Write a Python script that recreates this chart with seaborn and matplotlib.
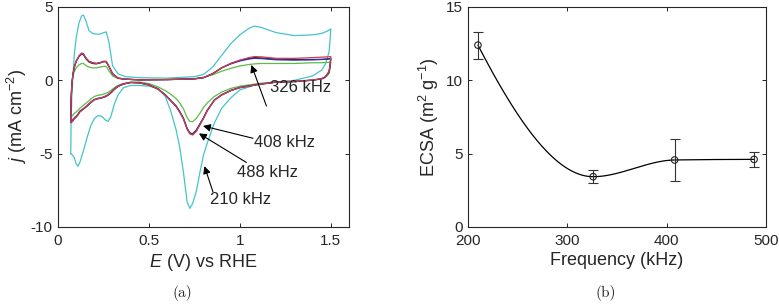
import numpy as np
import pandas as pd
import matplotlib
matplotlib.use("Agg")
import matplotlib.pyplot as plt
import seaborn as sns

# ---------------- data: (a) cyclic voltammograms ----------------
E_anodic = [0.07, 0.072, 0.076, 0.082, 0.09, 0.10, 0.115, 0.13, 0.14, 0.155,
            0.17, 0.19, 0.21, 0.23, 0.25, 0.265, 0.28, 0.30, 0.33, 0.37,
            0.45, 0.6, 0.75, 0.8, 0.85, 0.9, 0.95, 1.0, 1.05, 1.08,
            1.12, 1.2, 1.3, 1.4, 1.45, 1.48, 1.5]
E_cathodic = [1.5, 1.495, 1.49, 1.47, 1.45, 1.4, 1.3, 1.2, 1.1, 1.0,
              0.95, 0.9, 0.86, 0.82, 0.8, 0.78, 0.76, 0.74, 0.725, 0.71,
              0.69, 0.67, 0.65, 0.62, 0.59, 0.55, 0.5, 0.45, 0.40, 0.36,
              0.33, 0.31, 0.29, 0.275, 0.26, 0.24, 0.22, 0.20, 0.18, 0.16,
              0.14, 0.12, 0.11, 0.10, 0.09, 0.08, 0.07]

j210_an = [-5.0, -3.0, -1.0, 0.3, 1.8, 2.9, 3.9, 4.4, 4.45, 4.0,
           3.4, 3.2, 3.15, 3.15, 3.25, 3.3, 2.6, 1.0, 0.45, 0.25,
           0.18, 0.15, 0.25, 0.4, 0.9, 1.7, 2.5, 3.1, 3.55, 3.7,
           3.6, 3.25, 3.05, 3.1, 3.2, 3.35, 3.5]
j210_ca = [3.5, 2.6, 1.9, 1.1, 0.7, 0.3, 0.0, -0.1, -0.25, -0.65,
           -1.2, -1.9, -2.9, -4.3, -5.1, -6.3, -7.6, -8.4, -8.73, -8.3,
           -6.3, -4.6, -3.4, -2.1, -1.1, -0.55, -0.4, -0.35, -0.35, -0.5,
           -1.0, -1.6, -2.5, -2.8, -2.7, -2.45, -2.4, -2.6, -3.1, -3.9,
           -4.8, -5.6, -5.85, -5.7, -5.3, -5.1, -5.0]

j326_an = [-2.5, -1.2, -0.2, 0.3, 0.6, 0.85, 1.05, 1.15, 1.15, 1.0,
           0.9, 0.85, 0.85, 0.9, 0.95, 0.95, 0.65, 0.3, 0.12, 0.07,
           0.05, 0.07, 0.12, 0.2, 0.38, 0.62, 0.82, 0.98, 1.08, 1.12,
           1.15, 1.15, 1.15, 1.2, 1.2, 1.22, 1.25]
j326_ca = [1.25, 0.75, 0.45, 0.2, 0.1, 0.02, -0.05, -0.1, -0.22, -0.4,
           -0.55, -0.8, -1.1, -1.55, -1.85, -2.25, -2.6, -2.82, -2.8, -2.55,
           -1.95, -1.55, -1.25, -0.95, -0.7, -0.45, -0.22, -0.12, -0.12, -0.22,
           -0.35, -0.5, -0.7, -0.82, -0.9, -0.98, -1.02, -1.1, -1.28, -1.5,
           -1.7, -1.9, -2.05, -2.15, -2.25, -2.4, -2.5]

j408_an = [-2.7, -1.4, -0.3, 0.4, 0.9, 1.3, 1.65, 1.85, 1.8, 1.5,
           1.3, 1.2, 1.15, 1.2, 1.28, 1.28, 0.95, 0.45, 0.15, 0.08,
           0.03, 0.05, 0.1, 0.18, 0.45, 0.85, 1.12, 1.32, 1.45, 1.5,
           1.48, 1.4, 1.38, 1.4, 1.42, 1.45, 1.47]
j408_ca = [1.47, 0.9, 0.55, 0.22, 0.1, 0.01, -0.08, -0.12, -0.27, -0.48,
           -0.68, -0.98, -1.33, -2.08, -2.57, -3.0, -3.45, -3.7, -3.62, -3.3,
           -2.6, -2.15, -1.75, -1.37, -0.98, -0.58, -0.3, -0.17, -0.14, -0.23,
           -0.4, -0.58, -0.82, -0.98, -1.08, -1.18, -1.22, -1.3, -1.48, -1.72,
           -1.92, -2.1, -2.3, -2.45, -2.55, -2.7, -2.8]

j488_an = [-2.8, -1.5, -0.3, 0.4, 0.9, 1.3, 1.65, 1.85, 1.8, 1.5,
           1.3, 1.2, 1.15, 1.2, 1.3, 1.3, 0.95, 0.45, 0.15, 0.08,
           0.03, 0.05, 0.1, 0.2, 0.45, 0.85, 1.15, 1.38, 1.55, 1.62,
           1.6, 1.5, 1.5, 1.55, 1.58, 1.6, 1.62]
j488_ca = [1.55, 1.0, 0.6, 0.25, 0.12, 0.02, -0.08, -0.12, -0.28, -0.5,
           -0.7, -1.0, -1.35, -2.1, -2.6, -3.05, -3.5, -3.73, -3.65, -3.35,
           -2.65, -2.2, -1.8, -1.4, -1.0, -0.6, -0.32, -0.18, -0.15, -0.25,
           -0.4, -0.6, -0.85, -1.0, -1.1, -1.2, -1.25, -1.32, -1.5, -1.75,
           -1.95, -2.15, -2.35, -2.5, -2.6, -2.8, -2.9]

jref_an = [-2.8, -1.5, -0.3, 0.4, 0.9, 1.3, 1.62, 1.8, 1.75, 1.45,
           1.25, 1.15, 1.12, 1.18, 1.27, 1.27, 0.95, 0.45, 0.15, 0.08,
           0.03, 0.05, 0.1, 0.18, 0.45, 0.85, 1.15, 1.35, 1.5, 1.55,
           1.52, 1.45, 1.42, 1.42, 1.43, 1.45, 1.5]
jref_ca = [1.5, 0.95, 0.58, 0.24, 0.11, 0.01, -0.09, -0.13, -0.29, -0.5,
           -0.7, -1.0, -1.35, -2.05, -2.55, -2.98, -3.4, -3.65, -3.58, -3.28,
           -2.6, -2.15, -1.78, -1.4, -1.0, -0.6, -0.32, -0.18, -0.15, -0.26,
           -0.42, -0.62, -0.87, -1.02, -1.12, -1.2, -1.25, -1.33, -1.52, -1.76,
           -1.96, -2.15, -2.35, -2.5, -2.6, -2.78, -2.88]

curve_names = ["210 kHz", "326 kHz", "ref", "408 kHz", "488 kHz"]
curve_anodic = [j210_an, j326_an, jref_an, j408_an, j488_an]
curve_cathodic = [j210_ca, j326_ca, jref_ca, j408_ca, j488_ca]
curve_colors = ["#45C3CD", "#5DBB46", "#1E1E1E", "#2E2EB8", "#D23C4B"]

# ---------------- data: (b) ECSA vs frequency ----------------
freq = [210, 326, 408, 488]
ecsa = [12.4, 3.43, 4.57, 4.61]
ecsa_lo = [11.43, 2.98, 3.13, 4.11]
ecsa_hi = [13.3, 3.89, 6.0, 5.14]


def pchip(x, y, xq):
    """Shape-preserving piecewise cubic Hermite interpolant (Fritsch-Carlson)."""
    x = np.asarray(x, float)
    y = np.asarray(y, float)
    h = np.diff(x)
    d = np.diff(y) / h
    n = len(x)
    m = np.zeros(n)
    for k in range(1, n - 1):
        if d[k - 1] * d[k] > 0:
            w1 = 2 * h[k] + h[k - 1]
            w2 = h[k] + 2 * h[k - 1]
            m[k] = (w1 + w2) / (w1 / d[k - 1] + w2 / d[k])
    def end(h0, h1, d0, d1):
        s = ((2 * h0 + h1) * d0 - h0 * d1) / (h0 + h1)
        if np.sign(s) != np.sign(d0):
            s = 0.0
        elif np.sign(d0) != np.sign(d1) and abs(s) > abs(3 * d0):
            s = 3 * d0
        return s
    m[0] = end(h[0], h[1], d[0], d[1])
    m[-1] = end(h[-1], h[-2], d[-1], d[-2])
    idx = np.clip(np.searchsorted(x, xq) - 1, 0, n - 2)
    t = (xq - x[idx]) / h[idx]
    h00 = 2 * t**3 - 3 * t**2 + 1
    h10 = t**3 - 2 * t**2 + t
    h01 = -2 * t**3 + 3 * t**2
    h11 = t**3 - t**2
    return (h00 * y[idx] + h10 * h[idx] * m[idx] + h01 * y[idx + 1]
            + h11 * h[idx] * m[idx + 1])


# ---------------- style ----------------
sns.set_theme(style="ticks")
plt.rcParams["font.family"] = ["Liberation Sans", "DejaVu Sans"]
plt.rcParams["mathtext.fontset"] = "custom"
plt.rcParams["mathtext.rm"] = "Liberation Sans"
plt.rcParams["mathtext.it"] = "Liberation Sans:italic"
plt.rcParams["mathtext.default"] = "regular"
plt.rcParams["axes.unicode_minus"] = False

spine_col = "#262626"
fig = plt.figure(figsize=(7.79, 3.07), dpi=100)
axA = fig.add_axes([58 / 779, 80 / 307, 291 / 779, 220 / 307])
axB = fig.add_axes([468 / 779, 80 / 307, 298 / 779, 220 / 307])

# (a)
for name, an, ca, col in zip(curve_names, curve_anodic, curve_cathodic, curve_colors):
    df = pd.DataFrame({"E": E_anodic + E_cathodic, "j": an + ca})
    sns.lineplot(data=df, x="E", y="j", sort=False, estimator=None,
                 color=col, lw=0.9, ax=axA)

axA.set_xlim(0, 1.6)
axA.set_ylim(-10, 5)
axA.set_xticks([0, 0.5, 1, 1.5])
axA.set_xticklabels(["0", "0.5", "1", "1.5"])
axA.set_yticks([-10, -5, 0, 5])
axA.set_xlabel("$\\mathit{E}$ (V) vs RHE", fontsize=13, labelpad=3)
axA.set_ylabel("$\\mathit{j}$ (mA cm$^{-2}$)", fontsize=13, labelpad=1)

arrow_kw = dict(arrowstyle="-|>", color="black", lw=0.8, mutation_scale=11,
                shrinkA=0, shrinkB=0)
ann_heads = [(1.063, 1.05), (0.797, -3.11), (0.775, -3.62), (0.805, -5.85)]
ann_tails = [(1.146, -1.75), (1.072, -3.95), (1.036, -5.6), (0.852, -7.6)]
ann_texts = ["326 kHz", "408 kHz", "488 kHz", "210 kHz"]
ann_pos = [(1.165, -0.5), (1.08, -4.25), (0.982, -6.3), (0.836, -8.1)]
for h, t, s, p in zip(ann_heads, ann_tails, ann_texts, ann_pos):
    axA.annotate("", xy=h, xytext=t, arrowprops=arrow_kw)
    axA.text(p[0], p[1], s, fontsize=12, ha="left", va="center")

# (b)
ff = np.linspace(min(freq), max(freq), 300)
sns.lineplot(x=ff, y=pchip(freq, ecsa, ff), color="black", lw=0.9, ax=axB)
yerr = [np.array(ecsa) - np.array(ecsa_lo), np.array(ecsa_hi) - np.array(ecsa)]
axB.errorbar(freq, ecsa, yerr=yerr, fmt="none", ecolor="#333333",
             elinewidth=0.8, capsize=3.5, capthick=0.8)
sns.scatterplot(x=freq, y=ecsa, marker="o", s=22, facecolor="none",
                edgecolor="#222222", linewidth=0.8, ax=axB, zorder=5)
axB.set_xlim(200, 500)
axB.set_ylim(0, 15)
axB.set_xticks([200, 300, 400, 500])
axB.set_yticks([0, 5, 10, 15])
axB.set_xlabel("Frequency (kHz)", fontsize=13, labelpad=3)
axB.set_ylabel("ECSA (m$^{2}$ g$^{-1}$)", fontsize=13, labelpad=3)

for ax in (axA, axB):
    for sp in ax.spines.values():
        sp.set_visible(True)
        sp.set_color(spine_col)
        sp.set_linewidth(0.8)
    ax.tick_params(direction="in", length=3, width=0.7, color=spine_col,
                   labelsize=11, labelcolor="#262626", top=True, right=True,
                   pad=5)
    ax.tick_params(axis="y", pad=4)

fig.text(182 / 779, 1 - 293 / 307, "(a)", fontsize=11, family="cmr10",
         ha="center", va="center")
fig.text(606 / 779, 1 - 293 / 307, "(b)", fontsize=11, family="cmr10",
         ha="center", va="center")

fig.savefig("out.png", dpi=100)
